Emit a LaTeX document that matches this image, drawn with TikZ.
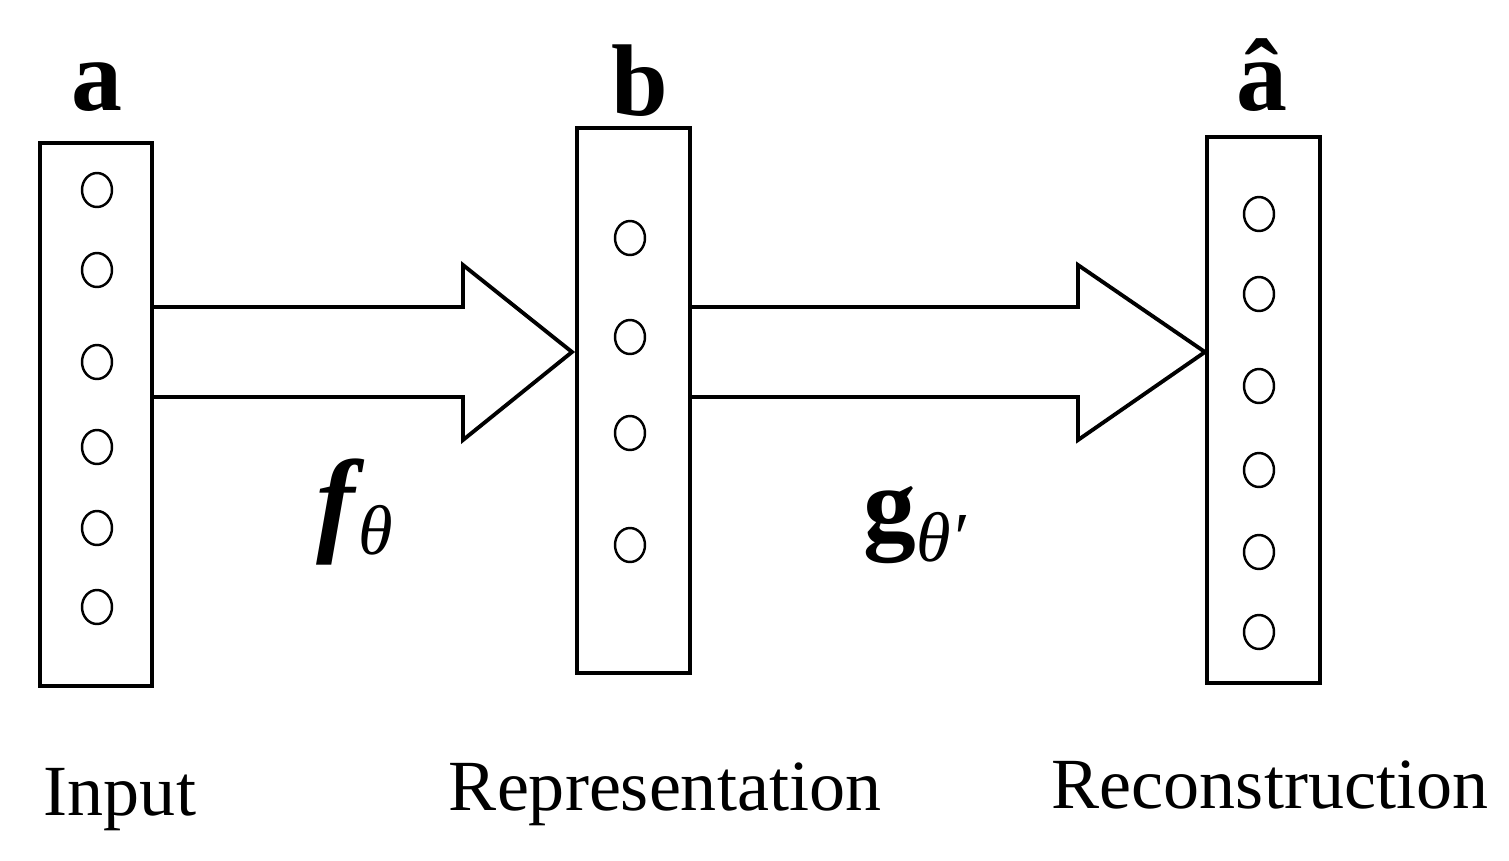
\documentclass[tikz,border=0pt]{standalone}
\usepackage{fontspec}
\setmainfont{Liberation Serif}
\begin{document}
\begin{tikzpicture}[x=0.02cm,y=-0.02cm,
 box/.style={draw,line width=2.6pt,inner sep=0pt},
 arr/.style={draw,line width=2.2pt,line join=miter},
 lab/.style={font=\fontsize{41}{41}\selectfont,inner sep=0pt},
 big/.style={font=\fontsize{58}{58}\selectfont\bfseries,inner sep=0pt}]
\useasboundingbox (0,0) rectangle (1509,860);
\draw[box] (40,143) rectangle (152,686);
\draw[box] (577,128) rectangle (690,673);
\draw[box] (1207,137) rectangle (1320,683);
\foreach \y in {190,270,362,447,528,607}
  \draw[line width=1.4pt] (97,\y) ellipse [x radius=15, y radius=17];
\foreach \y in {238,337,433,545}
  \draw[line width=1.4pt] (630,\y) ellipse [x radius=15, y radius=17];
\foreach \y in {214,294,386,470,552,632}
  \draw[line width=1.4pt] (1259,\y) ellipse [x radius=15, y radius=17];
\draw[arr,fill=white] (154,307) -- (463,307) -- (463,265) -- (572,352) -- (463,440) -- (463,397) -- (154,397);
\draw[arr,fill=white] (692,307) -- (1078,307) -- (1078,265) -- (1205,352) -- (1078,440) -- (1078,397) -- (692,397);
\node[big,anchor=base] (la) at (97,110) {a};
\node[big,anchor=base] (lb) at (640,115) {b};
\node[big,anchor=base] (lc) at (1262,110) {â};
\node[inner sep=0pt,anchor=base] (f) at (355,540) {\fontsize{66}{66}\selectfont\bfseries\itshape f\kern2pt\raisebox{-8pt}{\fontsize{40}{40}\selectfont\mdseries θ}};
\node[inner sep=0pt,anchor=base] (g) at (915,540) {\fontsize{60}{60}\selectfont\bfseries g\raisebox{-12pt}{\fontsize{40}{40}\selectfont\mdseries\itshape θ′}};
\node[lab,anchor=base] (t1) at (120,815) {Input};
\node[lab,anchor=base] (t2) at (665,810) {Representation};
\node[lab,anchor=base] (t3) at (1270,808) {Reconstruction};
\end{tikzpicture}
\end{document}
